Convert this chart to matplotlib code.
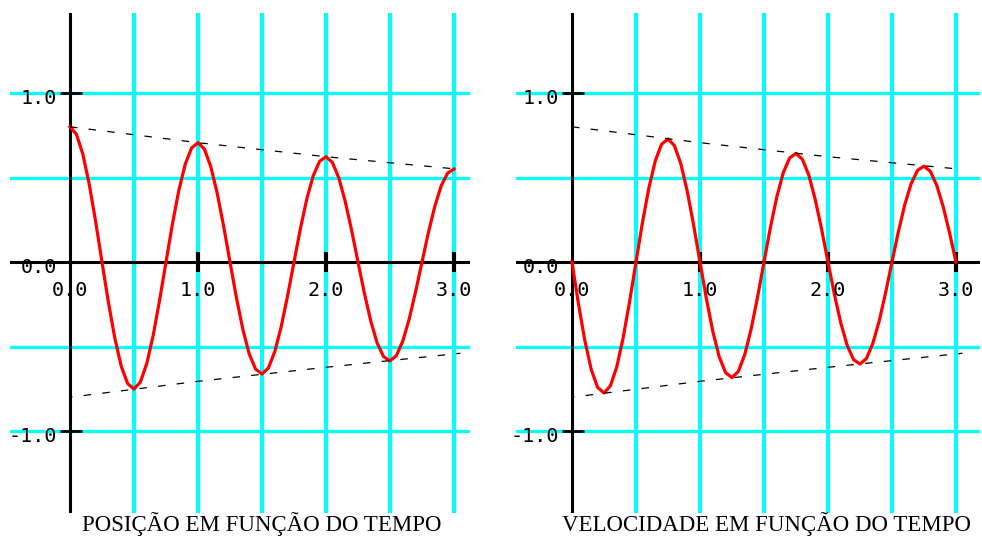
import matplotlib
matplotlib.use('Agg')
import matplotlib.pyplot as plt

# time samples (s), step 0.05
t = [round(0.05 * k, 2) for k in range(61)]

# position
posicao = [0.800, 0.756, 0.639, 0.461, 0.241, 0.000, -0.238, -0.450, -0.616, -0.719,
           -0.752, -0.710, -0.600, -0.434, -0.226, 0.000, 0.224, 0.423, 0.578, 0.675,
           0.706, 0.668, 0.564, 0.407, 0.213, 0.000, -0.210, -0.397, -0.544, -0.634,
           -0.663, -0.627, -0.530, -0.383, -0.200, 0.000, 0.197, 0.373, 0.510, 0.596,
           0.623, 0.589, 0.498, 0.359, 0.188, 0.000, -0.185, -0.350, -0.480, -0.560,
           -0.585, -0.554, -0.468, -0.337, -0.176, 0.000, 0.174, 0.329, 0.451, 0.526,
           0.550]

# velocity
velocidade = [0.000, -0.246, -0.464, -0.635, -0.742, -0.775, -0.733, -0.620, -0.447, -0.234,
              0.000, 0.231, 0.436, 0.597, 0.697, 0.728, 0.689, 0.582, 0.420, 0.219,
              0.000, -0.217, -0.410, -0.561, -0.655, -0.684, -0.647, -0.547, -0.395, -0.206,
              0.000, 0.204, 0.385, 0.527, 0.615, 0.643, 0.608, 0.514, 0.371, 0.194,
              0.000, -0.191, -0.361, -0.494, -0.578, -0.604, -0.571, -0.482, -0.349, -0.182,
              0.000, 0.180, 0.340, 0.464, 0.543, 0.567, 0.536, 0.453, 0.327, 0.171,
              0.000]

# dashed envelope
env_t = [0.0, 1.0, 2.0, 3.05]
env_sup = [0.80, 0.706, 0.623, 0.548]
env_inf = [-0.80, -0.706, -0.623, -0.540]

grid_x = [0.5, 1.0, 1.5, 2.0, 2.5, 3.0]
grid_y = [-1.0, -0.5, 0.5, 1.0]
x_ticks = [0.0, 1.0, 2.0, 3.0]
x_labels = ['0.0', '1.0', '2.0', '3.0']
y_ticks = [1.0, 0.0, -1.0]
y_labels = ['1.0', '0.0', '-1.0']

W, H = 982, 537
PX = 128.0   # pixels per second
PY = 169.0   # pixels per unit

fig = plt.figure(figsize=(W / 100, H / 100), dpi=100)
fig.patch.set_facecolor('white')


def painel(x0, x1, eixo_px, y, titulo, titulo_x):
    top, bot = 13, 513
    ax = fig.add_axes([x0 / W, (H - bot) / H, (x1 - x0) / W, (bot - top) / H])
    ax.set_xlim(-(eixo_px - x0) / PX, (x1 - eixo_px) / PX)
    ax.set_ylim(-(bot - 262) / PY, (262 - top) / PY)
    ax.axis('off')

    for g in grid_x:
        ax.axvline(g, color='#00ffff', lw=2.9, zorder=1)
    for g in grid_y:
        ax.axhline(g, color='#00ffff', lw=2.3, zorder=1)

    ax.axhline(0, color='black', lw=2.2, zorder=2)
    ax.axvline(0, color='black', lw=2.2, zorder=2)
    for xt in x_ticks[1:]:
        ax.plot([xt, xt], [-0.06, 0.06], color='black', lw=3.0, zorder=2,
                solid_capstyle='butt')
    for yt in [1.0, -1.0]:
        ax.plot([-0.08, 0.09], [yt, yt], color='black', lw=2.0, zorder=2,
                solid_capstyle='butt')

    ax.plot(t, y, color='red', lw=2.3, zorder=3)
    ax.plot(env_t, env_sup, color='black', lw=0.9, ls=(0, (6, 9)), zorder=4)
    ax.plot(env_t, env_inf, color='black', lw=0.9, ls=(4, (6, 9)), zorder=4)

    for xt, lab in zip(x_ticks, x_labels):
        ax.text(xt, -0.115, lab, ha='center', va='top', fontsize=14.5,
                family='DejaVu Sans Mono', zorder=5)
    for yt, lab in zip(y_ticks, y_labels):
        ax.text(-0.10, yt - 0.065, lab, ha='right', va='baseline', fontsize=14.5,
                family='DejaVu Sans Mono', zorder=5)

    fig.text(titulo_x / W, 6.5 / H, titulo, ha='center', va='baseline',
             fontsize=16.5, family='Liberation Serif')


painel(10, 470, 70, posicao, 'POSIÇÃO EM FUNÇÃO DO TEMPO', 262)
painel(516, 980, 572, velocidade, 'VELOCIDADE EM FUNÇÃO DO TEMPO', 766)

fig.savefig('out.png', dpi=100)
